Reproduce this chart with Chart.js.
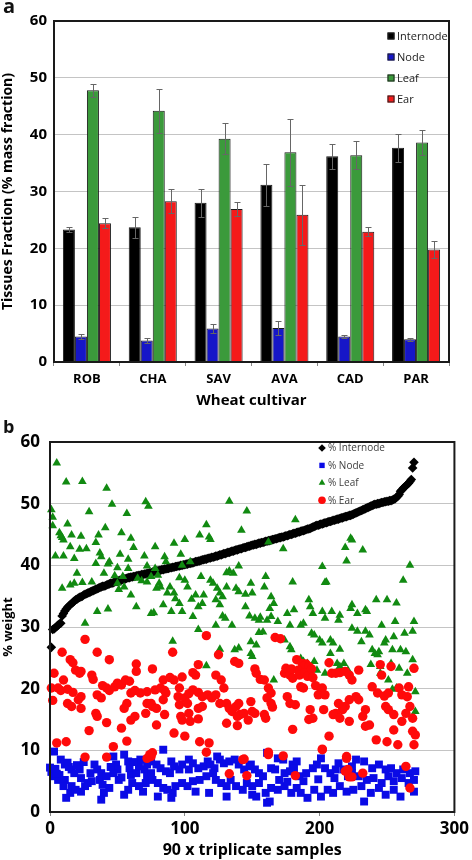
<!DOCTYPE html>
<html>
<head>
<meta charset="utf-8">
<script src="https://cdn.jsdelivr.net/npm/chart.js@4.4.0/dist/chart.umd.min.js"></script>
<style>
  html, body { margin: 0; padding: 0; background: #fff; }
  #wrap { position: relative; width: 472px; height: 860px; }
  #chartA { position: absolute; left: 0; top: 0; }
  #chartB { position: absolute; left: 0; top: 420px; }
</style>
</head>
<body>
<div id="wrap">
  <canvas id="chartA" width="472" height="420"></canvas>
  <canvas id="chartB" width="472" height="440"></canvas>
</div>
<script>
// ---- panel a: tissue fraction per cultivar (mean and error) ----
const cultivars = ['ROB', 'CHA', 'SAV', 'AVA', 'CAD', 'PAR'];
const internodeMean = [23.3, 23.7, 28.0, 31.2, 36.2, 37.7];
const internodeErr  = [0.5, 1.9, 2.5, 3.7, 2.2, 2.5];
const nodeMean = [4.5, 3.8, 5.9, 6.0, 4.5, 4.0];
const nodeErr  = [0.4, 0.4, 0.8, 1.3, 0.2, 0.3];
const leafMean = [47.8, 44.2, 39.3, 36.9, 36.4, 38.6];
const leafErr  = [1.1, 3.9, 2.7, 5.9, 2.5, 2.2];
const earMean = [24.4, 28.3, 26.9, 25.9, 22.9, 19.8];
const earErr  = [0.9, 2.1, 1.2, 5.3, 0.8, 1.5];

// ---- panel b: 90 x triplicate samples, sorted by internode ----
// internode % for sample 1..270
const internodePct = [
  26.7, 29.6, 29.7, 29.9, 30.1, 30.3, 30.5, 30.6, 31.8, 32.2,
  32.6, 32.9, 33.2, 33.4, 33.6, 33.8, 34.0, 34.2, 34.4, 34.5,
  34.7, 34.8, 34.9, 35.0, 35.2, 35.3, 35.4, 35.5, 35.6, 35.7,
  35.8, 35.9, 36.0, 36.1, 36.2, 36.3, 36.4, 36.5, 36.6, 36.6,
  36.7, 36.8, 36.9, 37.0, 37.1, 37.1, 37.2, 37.3, 37.4, 37.4,
  37.5, 37.6, 37.6, 37.7, 37.8, 37.8, 37.9, 38.0, 38.0, 38.1,
  38.1, 38.2, 38.2, 38.3, 38.3, 38.4, 38.4, 38.5, 38.5, 38.6,
  38.6, 38.7, 38.7, 38.8, 38.8, 38.9, 39.0, 39.0, 39.1, 39.1,
  39.2, 39.2, 39.3, 39.3, 39.4, 39.4, 39.5, 39.5, 39.6, 39.6,
  39.7, 39.7, 39.8, 39.8, 39.9, 39.9, 40.0, 40.0, 40.1, 40.1,
  40.2, 40.2, 40.3, 40.3, 40.4, 40.4, 40.5, 40.6, 40.6, 40.7,
  40.7, 40.8, 40.9, 40.9, 41.0, 41.0, 41.1, 41.2, 41.2, 41.3,
  41.3, 41.4, 41.5, 41.5, 41.6, 41.7, 41.7, 41.8, 41.9, 41.9,
  42.0, 42.1, 42.1, 42.2, 42.3, 42.3, 42.4, 42.5, 42.5, 42.6,
  42.7, 42.7, 42.8, 42.9, 42.9, 43.0, 43.1, 43.1, 43.2, 43.3,
  43.3, 43.4, 43.4, 43.5, 43.6, 43.6, 43.7, 43.7, 43.8, 43.9,
  43.9, 44.0, 44.0, 44.1, 44.2, 44.2, 44.3, 44.3, 44.4, 44.5,
  44.5, 44.6, 44.6, 44.7, 44.8, 44.8, 44.9, 45.0, 45.0, 45.1,
  45.2, 45.2, 45.3, 45.4, 45.4, 45.5, 45.6, 45.6, 45.7, 45.8,
  45.9, 45.9, 46.0, 46.1, 46.2, 46.3, 46.4, 46.5, 46.5, 46.6,
  46.7, 46.7, 46.8, 46.9, 46.9, 47.0, 47.1, 47.1, 47.2, 47.3,
  47.3, 47.4, 47.5, 47.5, 47.6, 47.7, 47.7, 47.8, 47.9, 47.9,
  48.0, 48.1, 48.1, 48.2, 48.3, 48.4, 48.5, 48.6, 48.7, 48.8,
  48.9, 49.0, 49.1, 49.2, 49.3, 49.4, 49.5, 49.6, 49.7, 49.8,
  49.9, 49.9, 50.0, 50.0, 50.1, 50.2, 50.2, 50.3, 50.3, 50.4,
  50.4, 50.5, 50.5, 50.6, 50.7, 50.8, 51.0, 51.2, 51.5, 52.0,
  52.2, 52.5, 52.7, 52.9, 53.1, 53.3, 53.6, 53.9, 55.8, 56.7
];

// [sample, %] pairs (overlapping markers hidden)
const leafPct = [
  [5,56.6],[12,53.5],[24,53.6],[42,52.5],[71,50.3],[73,49.6],[46,49.9],[1,49.0],[2,47.8],[29,48.7],
  [57,48.4],[2,46.4],[13,46.7],[41,46.1],[7,45.3],[8,44.8],[9,44.5],[10,44.1],[16,44.9],[23,44.7],
  [36,44.9],[53,45.3],[60,44.4],[62,42.9],[15,43.0],[22,42.6],[27,42.7],[34,43.7],[4,41.5],[10,41.5],
  [18,41.1],[37,42.0],[38,41.4],[44,40.6],[43,40.2],[52,41.8],[58,41.0],[70,41.5],[72,39.9],[34,40.3],
  [50,39.6],[58,39.5],[20,38.7],[40,38.7],[48,38.3],[54,38.2],[65,37.9],[68,37.5],[31,37.3],[72,37.3],
  [9,36.3],[15,36.8],[18,37.1],[24,37.2],[50,37.1],[51,36.1],[55,36.5],[60,35.2],[64,33.3],[35,32.5],
  [43,32.9],[26,30.6],[75,32.2],
  [133,50.4],[146,48.8],[116,46.6],[111,44.9],[118,44.6],[119,44.2],[142,45.7],[100,44.2],[92,43.6],[78,43.0],
  [85,41.4],[86,40.6],[97,41.8],[78,39.5],[98,40.0],[104,40.6],[140,39.9],[133,39.1],[131,38.8],[136,38.7],
  [75,38.2],[80,38.4],[81,37.1],[82,36.5],[79,36.3],[96,38.0],[100,37.6],[102,36.5],[112,38.2],[119,37.6],
  [121,37.1],[89,36.5],[87,35.5],[108,35.2],[105,34.5],[92,35.5],[93,34.6],[96,33.8],[124,36.3],[126,35.5],
  [128,34.9],[131,36.5],[138,36.3],[140,35.7],[145,35.3],[114,35.2],[113,33.8],[110,33.3],[123,34.4],[126,33.6],
  [84,33.6],[98,32.5],[77,32.3],[90,32.5],[106,31.7],[128,31.8],[130,31.4],[145,33.3],[148,31.8],[110,29.6],
  [123,30.3],[135,30.3],[91,27.7],[126,26.4],[137,26.3],[140,26.6],[116,23.7],
  [182,47.4],[162,43.8],[173,42.7],[223,44.4],[219,42.9],[220,40.7],[202,39.8],[205,37.3],[204,37.2],[160,38.2],
  [159,36.5],[149,37.1],[150,35.5],[180,37.3],[164,34.9],[166,33.8],[163,33.0],[161,31.1],[164,31.7],[176,32.2],
  [181,32.8],[192,34.4],[193,33.3],[195,32.2],[202,32.5],[204,31.4],[209,32.5],[214,31.1],[215,31.9],[223,33.0],
  [152,31.4],[155,31.1],[156,31.6],[169,30.9],[178,30.3],[186,30.3],[188,30.6],[149,27.6],[153,27.1],[155,29.1],
  [158,29.2],[174,27.9],[178,26.8],[179,26.3],[194,29.0],[196,28.7],[200,27.9],[202,27.4],[208,27.9],[210,27.4],
  [215,26.4],[186,24.9],[188,24.4],[191,24.1],[196,24.4],[198,23.0],[208,25.7],[213,24.1],[215,23.6],[218,24.1],
  [221,23.0],[166,21.4],[181,23.0],[204,22.5],[149,25.7],[150,25.2],
  [224,44.1],[232,42.5],[267,40.0],[262,37.6],[242,34.4],[250,34.4],[257,33.9],[224,33.6],[228,32.2],[234,32.8],
  [235,32.5],[270,30.9],[256,30.9],[246,30.3],[269,29.3],[263,29.0],[255,28.4],[249,27.9],[248,27.4],[224,29.8],
  [228,29.3],[234,29.3],[237,28.7],[231,27.6],[239,26.3],[241,25.7],[243,25.5],[244,26.0],[254,26.3],[260,26.3],
  [264,26.0],[269,24.7],[238,23.9],[245,23.6],[253,24.1],[259,23.3],[245,22.5],[251,21.4],[265,22.5],[271,19.5],
  [271,16.3],[257,20.1],[254,19.9]
];

const earPct = [
  [26,28.0],[9,25.9],[35,25.9],[44,24.7],[15,24.7],[17,24.2],[19,23.0],[23,22.8],[22,22.5],[3,22.5],
  [10,21.4],[64,24.0],[64,22.8],[31,22.2],[32,21.5],[1,20.1],[6,20.1],[8,19.7],[13,19.9],[17,19.4],
  [39,20.5],[42,20.1],[44,19.7],[48,20.3],[50,20.9],[53,20.6],[56,21.4],[59,21.2],[35,19.0],[38,18.5],
  [23,18.7],[21,18.2],[13,17.6],[16,17.1],[2,18.1],[60,19.3],[63,19.7],[67,19.3],[72,19.5],[57,17.6],
  [55,16.8],[72,17.6],[71,16.0],[23,16.8],[34,16.0],[35,15.5],[42,14.5],[63,15.5],[60,14.9],[53,13.6],
  [29,13.2],[57,11.5],[47,10.6],[5,11.2],[12,11.4],[26,8.9],[42,8.9],[72,8.7],[75,9.0],
  [116,28.6],[91,25.9],[125,25.5],[137,24.4],[140,24.1],[76,23.2],[110,23.9],[106,22.6],[108,22.2],[84,21.4],
  [89,21.8],[92,21.4],[98,21.9],[123,22.2],[127,21.4],[129,20.1],[78,19.8],[82,20.1],[85,19.7],[86,19.3],
  [96,20.1],[95,18.7],[100,18.5],[103,19.2],[106,19.8],[110,19.4],[113,18.7],[117,19.0],[120,18.5],[123,19.0],
  [126,17.6],[75,17.6],[76,17.1],[79,16.8],[85,15.8],[84,18.2],[96,17.4],[102,17.6],[103,16.0],[110,16.8],
  [113,17.1],[131,17.6],[133,16.8],[135,16.3],[138,17.1],[140,17.6],[141,15.8],[139,15.5],[144,16.0],[147,14.9],
  [79,14.1],[97,15.5],[98,14.9],[104,14.7],[110,15.1],[131,14.4],[139,14.0],[92,12.8],[100,12.3],[111,11.4],
  [118,11.2],[116,9.7],[74,9.3],[76,9.6],[143,8.5],[133,6.2],[146,5.9],
  [167,28.3],[171,28.1],[183,24.7],[187,24.1],[190,24.0],[188,23.6],[192,23.6],[207,24.2],[209,22.5],[212,22.5],
  [215,22.6],[219,22.8],[222,22.2],[152,23.2],[153,22.5],[156,21.5],[159,21.4],[174,22.5],[175,23.3],[178,22.2],
  [179,23.2],[180,21.7],[186,20.3],[188,20.1],[197,20.5],[201,19.9],[202,20.1],[199,19.0],[204,19.0],[162,20.1],
  [164,19.3],[161,18.5],[164,17.6],[165,17.0],[149,17.9],[150,16.3],[152,16.0],[176,18.7],[182,17.4],[178,17.6],
  [222,18.2],[219,17.1],[217,16.6],[214,17.6],[212,16.0],[210,15.8],[215,15.2],[193,16.6],[195,15.2],[203,16.6],
  [159,15.8],[160,15.2],[222,14.7],[192,15.0],[180,13.4],[207,12.3],[202,10.2],[162,9.3],[173,9.1],[220,9.0],
  [219,6.6],[182,5.9],[222,5.7],[162,9.7],[144,8.6],[184,23.0],[185,22.2],[189,22.6],[191,22.0],[194,23.2],
  [195,21.8],
  [229,23.0],[245,23.9],[253,23.6],[246,22.2],[239,20.3],[243,19.3],[248,18.8],[251,19.3],[270,23.3],[266,20.3],
  [259,20.1],[261,19.0],[265,18.7],[267,17.1],[224,21.4],[227,18.7],[229,18.2],[234,16.6],[232,15.5],[237,14.1],
  [234,13.9],[249,17.1],[251,16.6],[255,15.8],[261,14.7],[264,16.0],[269,15.2],[242,11.7],[250,11.4],[258,10.9],
  [269,13.1],[271,12.5],[270,10.9],[255,13.3],[232,6.3],[264,7.4],[267,3.9],[224,5.7],[221,6.9],[220,8.7],
  [202,10.1]
];

const nodePct = [
  [0,7.2],[1,6.5],[3,9.8],[8,8.5],[11,7.7],[16,6.9],[18,6.3],[7,6.0],[6,5.2],[12,2.3],
  [15,3.1],[16,4.2],[22,6.9],[23,5.5],[26,4.2],[23,3.3],[19,3.6],[28,4.7],[33,7.7],[35,6.9],
  [38,6.3],[37,5.2],[39,4.4],[40,3.1],[38,2.0],[47,9.0],[49,7.7],[50,6.9],[51,5.2],[47,6.3],
  [44,3.9],[55,9.3],[58,8.2],[59,7.1],[60,6.0],[61,4.7],[58,3.6],[55,2.8],[64,6.3],[66,7.4],
  [70,6.9],[72,5.8],[75,6.3],[71,4.7],[69,3.3],[66,4.2],[67,8.5],[72,7.7],[3,5.8],[11,5.2],
  [10,4.2],[4,7.0],[5,6.2],[13,8.0],[14,7.3],[20,7.6],[25,8.1],[30,6.3],[31,5.0],[42,5.8],
  [45,7.3],[53,5.6],[62,8.1],
  [84,10.1],[75,8.2],[79,7.7],[82,7.1],[86,6.6],[90,8.2],[92,7.4],[89,6.3],[96,6.9],[98,7.7],
  [103,8.5],[103,6.9],[106,7.9],[76,5.2],[80,4.7],[84,3.9],[87,3.6],[91,3.1],[93,4.2],[98,4.7],
  [102,4.2],[106,5.0],[111,5.2],[110,7.1],[114,7.4],[117,8.2],[119,7.7],[122,7.1],[124,9.0],[126,8.5],
  [129,7.9],[133,8.2],[137,8.5],[140,7.7],[144,6.9],[148,7.4],[116,5.8],[121,6.3],[123,5.2],[127,4.7],
  [131,4.2],[134,5.2],[138,4.2],[143,3.6],[146,4.7],[108,3.3],[118,3.1],[131,2.5],[80,2.5],[90,2.3],
  [161,9.6],[169,8.7],[173,8.5],[180,7.7],[183,8.2],[149,7.7],[152,6.9],[155,6.3],[158,5.8],[164,7.1],
  [167,6.9],[174,6.3],[178,6.6],[181,7.1],[185,5.8],[190,6.3],[195,7.1],[198,7.7],[201,8.7],[204,7.1],
  [208,6.3],[212,6.9],[214,7.9],[218,6.9],[221,5.8],[224,7.4],[150,4.2],[155,4.7],[160,3.1],[164,3.9],
  [169,3.6],[174,4.2],[179,3.1],[183,3.9],[186,3.1],[191,2.3],[196,3.6],[201,2.5],[206,3.6],[210,3.1],
  [215,4.2],[220,3.3],[163,1.7],[150,2.8],[153,2.5],[161,1.5],[170,5.2],[188,5.0],[199,5.3],[211,5.5],
  [176,4.9],
  [227,8.5],[233,8.2],[239,7.1],[244,7.7],[249,6.9],[253,7.1],[257,6.3],[262,6.9],[267,6.3],[271,6.6],
  [224,6.3],[229,5.8],[235,5.2],[240,5.5],[246,4.7],[251,5.8],[255,5.0],[261,5.5],[266,4.7],[270,5.2],
  [225,3.6],[231,4.2],[238,3.1],[244,3.9],[249,2.8],[255,3.6],[260,2.5],[270,3.3],[233,1.7]
];

const FONT = "'Open Sans', 'DejaVu Sans', sans-serif";
Chart.defaults.font.family = FONT;
Chart.defaults.color = '#000';

// box round the plot area
const frame = {
  id: 'frame',
  afterDraw(chart, args, opts) {
    const { ctx, chartArea: a } = chart;
    ctx.save();
    ctx.strokeStyle = opts.color;
    ctx.lineWidth = opts.width;
    ctx.strokeRect(a.left, a.top, a.right - a.left, a.bottom - a.top);
    ctx.restore();
  }
};

// panel letter
const tag = {
  id: 'tag',
  afterDraw(chart, args, opts) {
    const ctx = chart.ctx;
    ctx.save();
    ctx.font = opts.font;
    ctx.fillStyle = '#111';
    ctx.textBaseline = 'alphabetic';
    ctx.fillText(opts.text, opts.x, opts.y);
    ctx.restore();
  }
};

// legend inside the plot, top right
const cornerLegend = {
  id: 'cornerLegend',
  afterDraw(chart, args, o) {
    const ctx = chart.ctx;
    ctx.save();
    ctx.font = o.font;
    ctx.textBaseline = 'middle';
    o.order.forEach((di, row) => {
      const ds = chart.data.datasets[di];
      const y = o.y + row * o.gap;
      ctx.fillStyle = ds.backgroundColor;
      if (o.box) {
        const s = o.box;
        ctx.fillRect(o.x - s / 2, y - s / 2, s, s);
        ctx.strokeStyle = '#222';
        ctx.lineWidth = 1;
        ctx.strokeRect(o.x - s / 2 + 0.5, y - s / 2 + 0.5, s - 1, s - 1);
      } else {
        Chart.helpers.drawPoint(ctx, { pointStyle: ds.pointStyle, radius: o.radius, borderWidth: 0, rotation: 0 }, o.x, y);
      }
      ctx.fillStyle = o.color;
      ctx.fillText(ds.label, o.textX, y + 0.5);
    });
    ctx.restore();
  }
};

// error bars from the err arrays, drawn on each bar
const errorBars = {
  id: 'errorBars',
  afterDatasetsDraw(chart, args, o) {
    const ctx = chart.ctx;
    const yScale = chart.scales.y;
    ctx.save();
    ctx.strokeStyle = o.color;
    ctx.lineWidth = 1;
    chart.data.datasets.forEach((ds, i) => {
      chart.getDatasetMeta(i).data.forEach((bar, j) => {
        const v = ds.data[j], e = ds.errors[j];
        const top = Math.round(yScale.getPixelForValue(v + e)) + 0.5;
        const bot = Math.round(yScale.getPixelForValue(v - e)) + 0.5;
        const x = Math.round(bar.x) + 0.5;
        ctx.beginPath();
        ctx.moveTo(x, top); ctx.lineTo(x, bot);
        ctx.moveTo(x - o.cap, top); ctx.lineTo(x + o.cap, top);
        ctx.moveTo(x - o.cap, bot); ctx.lineTo(x + o.cap, bot);
        ctx.stroke();
      });
    });
    ctx.restore();
  }
};

function barSet(label, data, errors, color) {
  return { label, data, errors, backgroundColor: color, borderColor: '#1a1a1a', borderWidth: 1 };
}

new Chart(document.getElementById('chartA'), {
  type: 'bar',
  data: {
    labels: cultivars,
    datasets: [
      barSet('Internode', internodeMean, internodeErr, '#000000'),
      barSet('Node', nodeMean, nodeErr, '#1616c8'),
      barSet('Leaf', leafMean, leafErr, '#3b9a3b'),
      barSet('Ear', earMean, earErr, '#f41a1a')
    ]
  },
  options: {
    responsive: false,
    animation: false,
    categoryPercentage: 0.73,
    barPercentage: 1.0,
    layout: { padding: { left: 0, right: 23, top: 21, bottom: 10 } },
    scales: {
      x: {
        grid: { drawOnChartArea: false, drawTicks: true, tickLength: 4, color: '#888' },
        border: { display: false },
        ticks: { font: { size: 13, weight: 'bold' }, padding: 5 },
        title: { display: true, text: 'Wheat cultivar', font: { size: 15, weight: 'bold' }, padding: 0 },
        afterFit: s => { s.height = 48; }
      },
      y: {
        min: 0, max: 60,
        grid: { color: '#c4c4c4', drawTicks: false },
        border: { display: false },
        ticks: { stepSize: 10, font: { size: 15, weight: 'bold' }, padding: 7 },
        title: { display: true, text: 'Tissues Fraction (% mass fraction)', font: { size: 14, weight: 'bold' }, padding: 0 },
        afterFit: s => { s.width = 54; }
      }
    },
    plugins: {
      legend: { display: false },
      tooltip: { enabled: false },
      frame: { color: '#1a1a1a', width: 2 },
      errorBars: { color: '#666', cap: 3 },
      tag: { text: 'a', x: 3, y: 13, font: 'bold 20px ' + FONT },
      cornerLegend: { x: 391, textX: 397, y: 36, gap: 21, box: 7, order: [0, 1, 2, 3], font: '11px ' + FONT, color: '#222' }
    }
  },
  plugins: [frame, errorBars, tag, cornerLegend]
});

const pairs = arr => arr.map(p => ({ x: p[0], y: p[1] }));

new Chart(document.getElementById('chartB'), {
  type: 'scatter',
  data: {
    datasets: [
      { label: '% Internode', data: internodePct.map((v, i) => ({ x: i + 1, y: v })), pointStyle: 'rectRot',
        pointRadius: 4.8, backgroundColor: '#000000', borderWidth: 0, order: 3, clip: false },
      { label: '% Node', data: pairs(nodePct), pointStyle: 'rect',
        pointRadius: 5.6, backgroundColor: '#0a0ae6', borderWidth: 0, order: 2, clip: false },
      { label: '% Leaf', data: pairs(leafPct), pointStyle: 'triangle',
        pointRadius: 5.0, backgroundColor: '#118a11', borderWidth: 0, order: 1, clip: false },
      { label: '% Ear', data: pairs(earPct), pointStyle: 'circle',
        pointRadius: 4.7, backgroundColor: '#ff0a0a', borderWidth: 0, order: 0, clip: false }
    ]
  },
  options: {
    responsive: false,
    animation: false,
    layout: { padding: { left: 0, right: 15, top: 22, bottom: 0 } },
    scales: {
      x: {
        type: 'linear', min: 0, max: 300,
        grid: { drawOnChartArea: false, drawTicks: true, tickLength: 4, color: '#888' },
        border: { display: false },
        ticks: { stepSize: 100, font: { size: 17, weight: 'bold' }, padding: 3 },
        title: { display: true, text: '90 x triplicate samples', font: { size: 16, weight: 'bold' }, padding: 0 },
        afterFit: s => { s.height = 48; }
      },
      y: {
        min: 0, max: 60,
        grid: { color: '#c4c4c4', drawTicks: false },
        border: { display: false },
        ticks: { stepSize: 10, font: { size: 17, weight: 'bold' }, padding: 10 },
        title: { display: true, text: '% weight', font: { size: 13, weight: 'bold' }, padding: 0 },
        afterFit: s => { s.width = 50; }
      }
    },
    plugins: {
      legend: { display: false },
      tooltip: { enabled: false },
      frame: { color: '#1a1a1a', width: 2 },
      tag: { text: 'b', x: 3, y: 13, font: 'bold 18px ' + FONT },
      cornerLegend: { x: 322, textX: 328, y: 28, gap: 17.4, radius: 3.8, order: [0, 1, 2, 3], font: '10px ' + FONT, color: '#404040' }
    }
  },
  plugins: [frame, tag, cornerLegend]
});
</script>
</body>
</html>
